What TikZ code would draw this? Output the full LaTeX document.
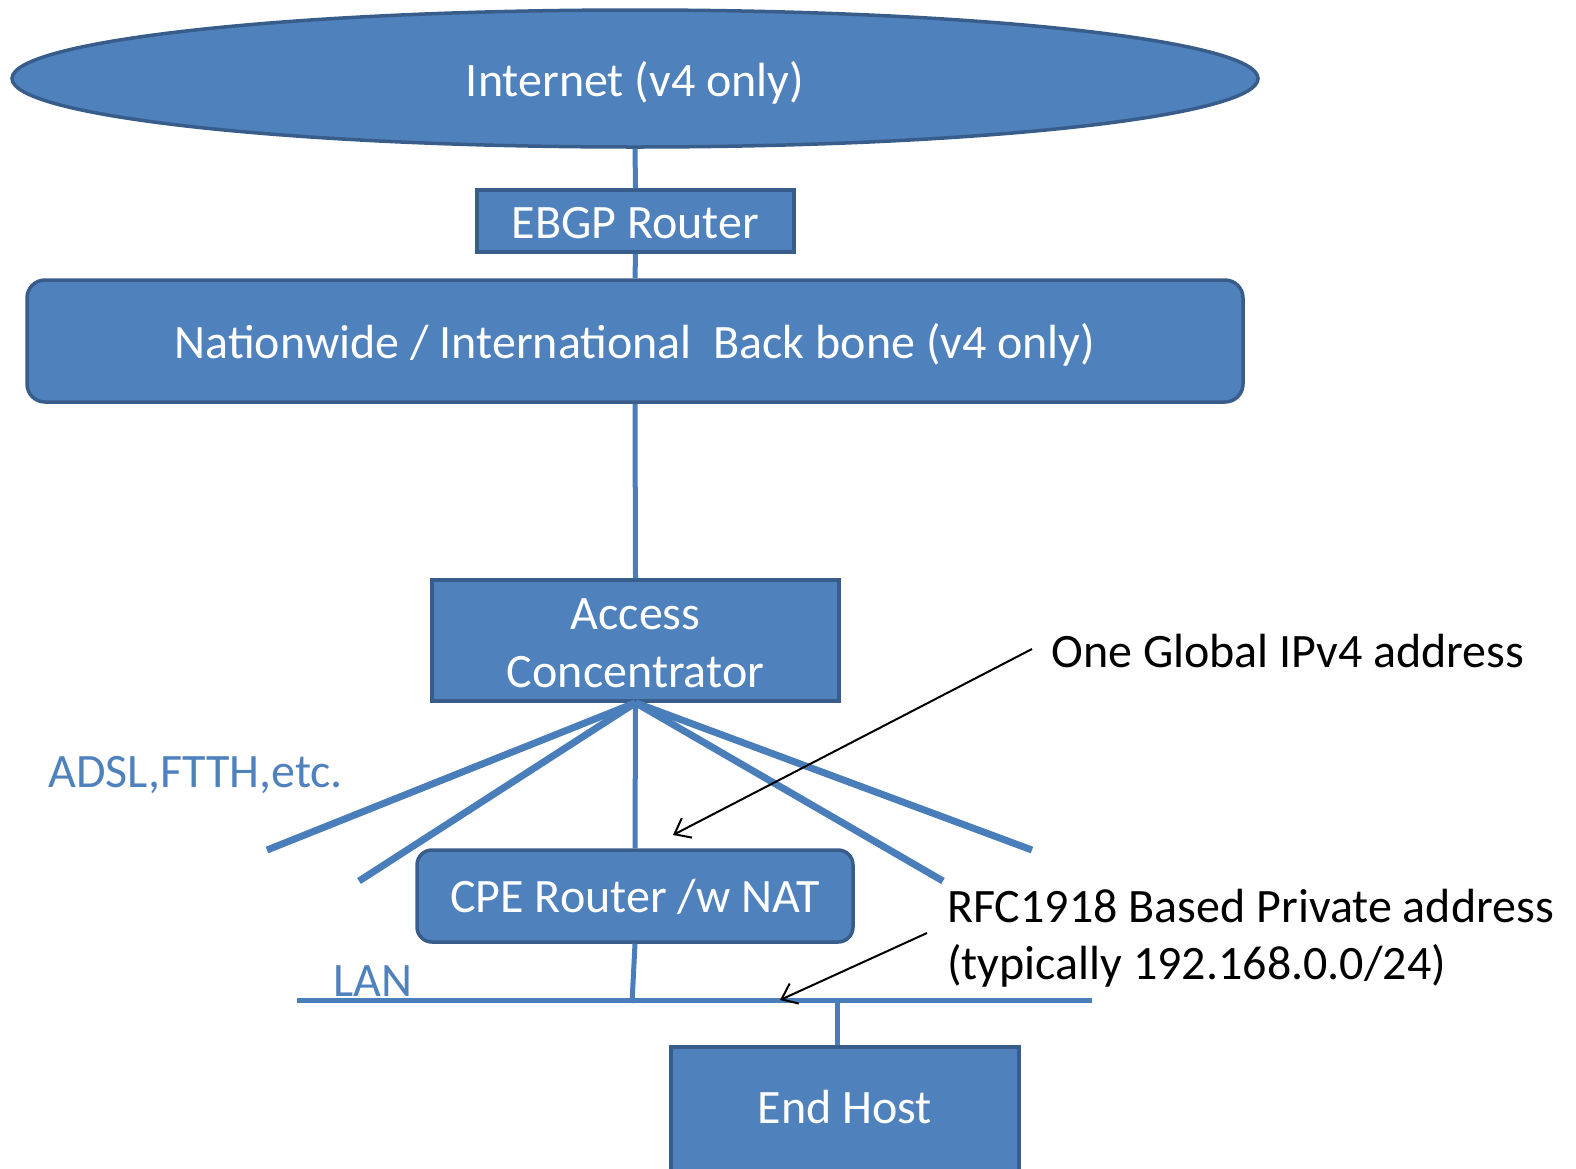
\documentclass[tikz,border=0pt]{standalone}
\usepackage{fontspec}
\setmainfont{Carlito}
\usetikzlibrary{shapes.geometric,arrows.meta}
\newcommand{\pxu}{0.75pt}
\newcommand{\lowerby}[2]{\raisebox{-#1}[\height][\depth]{#2}}
\definecolor{boxfill}{HTML}{4F81BD}
\definecolor{boxedge}{HTML}{385D8A}
\definecolor{wire}{HTML}{4A7EBB}
\tikzset{
  box/.style={draw=boxedge, fill=boxfill, line width=3.5*\pxu, text=white, inner sep=0pt,
    font=\fontsize{36}{43.5}\selectfont, align=center},
  wirel/.style={draw=wire, line width=5*\pxu},
  fanl/.style={draw=wire, line width=7*\pxu},
  note/.style={font=\fontsize{36}{43}\selectfont, anchor=west, inner sep=0pt, align=left},
  bluenote/.style={note, text=boxfill},
  callout/.style={draw=black, line width=2*\pxu, -{Straight Barb[length=14*\pxu, width=22*\pxu]}}
}
\begin{document}
\begin{tikzpicture}[x=0.75pt, y=-0.75pt]
\useasboundingbox (0,0) rectangle (1576,1168);
% nodes
\node[box, ellipse, minimum width=1246*\pxu, minimum height=137*\pxu] (inet) at (635,78.5) {\lowerby{3pt}{Internet (v4 only)}};
\node[box, minimum width=317*\pxu, minimum height=62*\pxu] (ebgp) at (635.5,221) {\lowerby{1.5pt}{EBGP Router}};
\node[box, rounded corners=18*\pxu, minimum width=1216*\pxu, minimum height=122*\pxu] (bb) at (635,341) {\lowerby{3pt}{Nationwide / International\ \ Back bone (v4 only)}};
\node[box, minimum width=407*\pxu, minimum height=121*\pxu] (ac) at (635.5,640.5) {\lowerby{4.5pt}{\begin{tabular}{@{}c@{}}Access\\Concentrator\end{tabular}}};
\node[box, rounded corners=15*\pxu, minimum width=436*\pxu, minimum height=92*\pxu] (cpe) at (635,896) {\lowerby{0.75pt}{CPE Router /w NAT}};
\node[box, minimum width=348*\pxu, minimum height=124*\pxu, anchor=north] (host) at (845,1045) {\lowerby{-1.5pt}{End Host}};
% LAN line coordinates
\coordinate (lanL) at (297,1000);
\coordinate (lanR) at (1092,1000);
\coordinate (lanCpe) at (632,1003);
\coordinate (lanHost) at (837,1000);
\coordinate (lanArrow) at (780,1000);
% fan ends
\coordinate (f1) at (267,850);
\coordinate (f2) at (359,881);
\coordinate (f4) at (943,881);
\coordinate (f5) at (1032,850);
% connectors
\draw[wirel] (inet.south) -- (ebgp.north);
\draw[wirel] (ebgp.south) -- (bb.north);
\draw[wirel] (bb.south) -- (ac.north);
\draw[fanl] (ac.south) -- (f1);
\draw[fanl] (ac.south) -- (f2);
\draw[wirel] (ac.south) -- (cpe.north);
\draw[fanl] (ac.south) -- (f4);
\draw[fanl] (ac.south) -- (f5);
\draw[wirel] (cpe.south) -- (lanCpe);
\draw[wirel] (lanL) -- (lanR);
\draw[wirel] (lanHost) -- (host.north -| lanHost);
% labels
\node[bluenote] (adsl) at (48,775) {ADSL,FTTH,etc.};
\node[bluenote] (lan) at (333,981) {LAN};
\node[note] (glob) at (1051,651) {One Global IPv4 address};
\node[note] (rfc) at (947,938) {RFC1918 Based Private address\\(typically 192.168.0.0/24)};
% callouts
\coordinate (g0) at (1032,649);
\coordinate (g1) at (673,835);
\coordinate (r0) at (927,933);
\draw[callout] (g0) -- (g1);
\draw[callout] (r0) -- (lanArrow);
\end{tikzpicture}
\end{document}
